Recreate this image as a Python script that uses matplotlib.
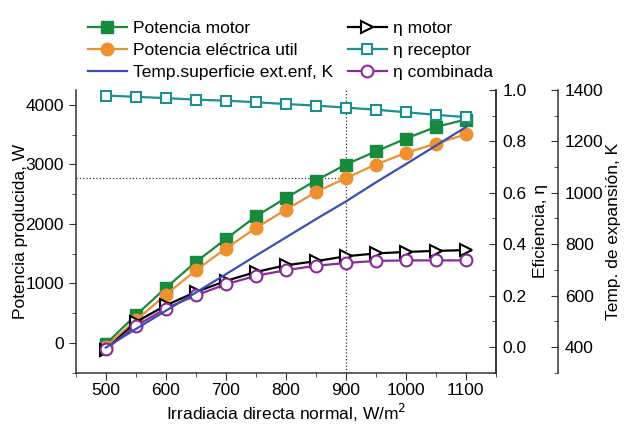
import matplotlib.pyplot as plt
from matplotlib.ticker import MultipleLocator

plt.rcParams["font.family"] = ["Liberation Sans", "DejaVu Sans"]
plt.rcParams["font.size"] = 12.5

# ---------- datos ----------
irradiancia = [500, 550, 600, 650, 700, 750, 800, 850, 900, 950, 1000, 1050, 1100]
pot_motor = [-15, 465, 925, 1360, 1745, 2125, 2435, 2727, 2997, 3217, 3431, 3628, 3752]
pot_electrica = [-60, 380, 810, 1220, 1586, 1929, 2238, 2532, 2768, 2997, 3190, 3347, 3504]
temp_superficie = [398, 470, 541, 612, 683, 755, 826, 897, 966, 1040, 1111, 1183, 1255]
eta_motor = [-0.01, 0.097, 0.162, 0.214, 0.257, 0.292, 0.318, 0.334, 0.353, 0.364, 0.370, 0.374, 0.377]
eta_receptor = [0.978, 0.973, 0.968, 0.962, 0.958, 0.952, 0.945, 0.939, 0.931, 0.923, 0.913, 0.903, 0.894]
eta_combinada = [-0.008, 0.082, 0.150, 0.201, 0.244, 0.277, 0.299, 0.316, 0.327, 0.335, 0.337, 0.337, 0.337]

punto_x = 900
punto_y = 2768

GREEN = "#178a3e"
ORANGE = "#ee9030"
BLUE = "#3a4fb0"
TEAL = "#1b9090"
PURPLE = "#8a2a9c"

fig = plt.figure(figsize=(6.26, 4.3), dpi=100)
ax = fig.add_axes([0.121, 0.133, 0.671, 0.658])
ax2 = ax.twinx()
ax3 = ax.twinx()

# lineas de referencia
ax.axvline(punto_x, color="#333333", linestyle=":", linewidth=0.9, zorder=1)
ax.plot([450, punto_x], [punto_y, punto_y], color="#333333", linestyle=":", linewidth=0.9, zorder=1)

l1, = ax.plot(irradiancia, pot_motor, color=GREEN, marker="s", markersize=8, linewidth=1.6,
              label="Potencia motor", zorder=3)
l2, = ax.plot(irradiancia, pot_electrica, color=ORANGE, marker="o", markersize=9, linewidth=1.6,
              label="Potencia eléctrica util", zorder=3)
l3, = ax3.plot(irradiancia, temp_superficie, color=BLUE, linewidth=1.6,
               label="Temp.superficie ext.enf, K", zorder=2)
l4, = ax2.plot(irradiancia, eta_motor, color="black", marker=">", markersize=8, linewidth=1.6,
               markerfacecolor="white", markeredgewidth=1.5, label="η motor", zorder=3)
l5, = ax2.plot(irradiancia, eta_receptor, color=TEAL, marker="s", markersize=7.5, linewidth=1.6,
               markerfacecolor="white", markeredgewidth=1.5, label="η receptor", zorder=3)
l6, = ax2.plot(irradiancia, eta_combinada, color=PURPLE, marker="o", markersize=8.5, linewidth=1.6,
               markerfacecolor="white", markeredgewidth=1.5, label="η combinada", zorder=4)

# ejes
ax.set_xlim(450, 1150)
ax.set_ylim(-500, 4250)
ax2.set_ylim(-0.1, 1.0)
ax3.set_ylim(300, 1400)

ax.xaxis.set_major_locator(MultipleLocator(100))
ax.xaxis.set_minor_locator(MultipleLocator(50))
ax.yaxis.set_major_locator(MultipleLocator(1000))
ax.yaxis.set_minor_locator(MultipleLocator(500))
ax2.yaxis.set_major_locator(MultipleLocator(0.2))
ax2.yaxis.set_minor_locator(MultipleLocator(0.1))
ax3.yaxis.set_major_locator(MultipleLocator(200))
ax3.yaxis.set_minor_locator(MultipleLocator(100))
ax2.yaxis.set_major_formatter(lambda v, p: f"{v:.1f}")

for a in (ax, ax2, ax3):
    a.spines["top"].set_visible(False)
    for s in a.spines.values():
        s.set_color("#333333")
        s.set_linewidth(1.1)

ax.tick_params(which="both", direction="out", color="#333333")
ax.tick_params(which="major", length=5)
ax.tick_params(which="minor", length=3)
ax.tick_params(axis="x", pad=2)
for a in (ax2, ax3):
    a.tick_params(which="both", direction="in", color="#333333")
    a.tick_params(which="major", length=5, pad=5)
    a.tick_params(which="minor", length=3)

ax3.spines["right"].set_position(("axes", 1.148))
ax3.spines["left"].set_visible(False)
ax3.spines["bottom"].set_visible(False)
ax2.spines["left"].set_visible(False)
ax2.spines["bottom"].set_visible(False)

ax.set_xlabel("Irradiacia directa normal, W/m$^2$", labelpad=3)
ax.set_ylabel("Potencia producida, W", labelpad=-2)
ax2.set_ylabel("Eficiencia, η", labelpad=4)
ax3.set_ylabel("Temp. de expansión, K", labelpad=2)

fig.legend(handles=[l1, l2, l3, l4, l5, l6], ncol=2, frameon=False,
           loc="upper left", bbox_to_anchor=(0.130, 0.967),
           handlelength=2.2, handletextpad=0.4, columnspacing=0.85,
           labelspacing=0.4, borderaxespad=0, fontsize=12.5)

fig.savefig("out.png", dpi=100)
